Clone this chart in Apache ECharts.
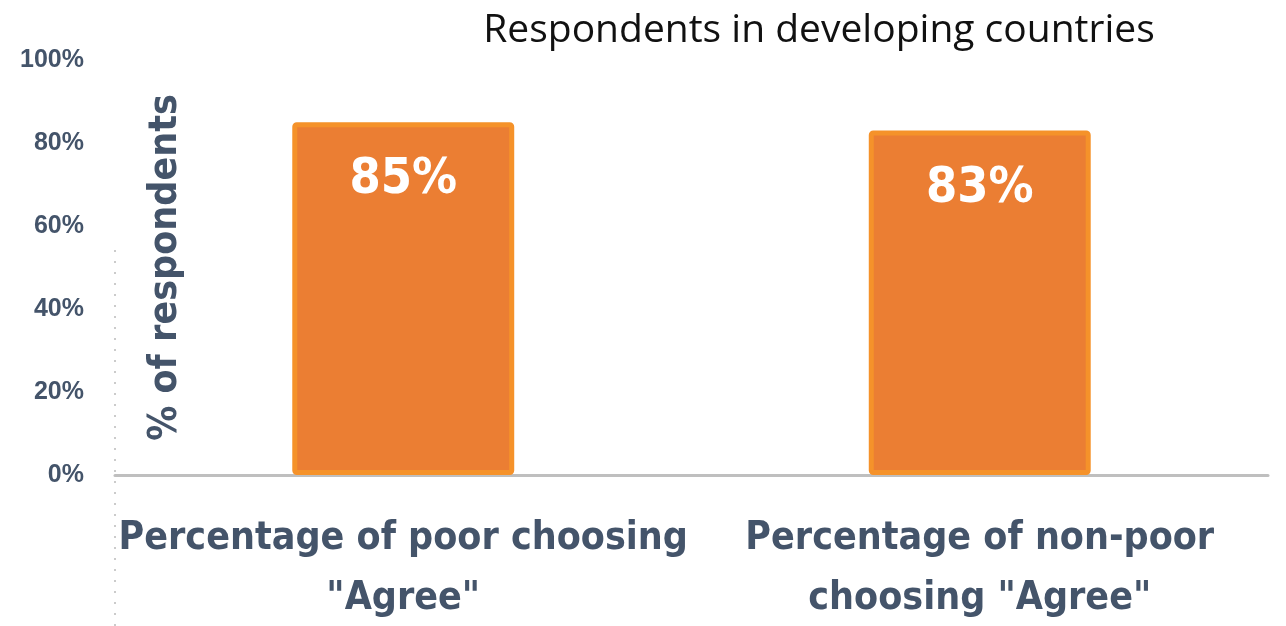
<!DOCTYPE html>
<html>
<head>
<meta charset="utf-8">
<script src="https://cdn.jsdelivr.net/npm/echarts@6/dist/echarts.min.js"></script>
<style>
  html, body { margin: 0; padding: 0; background: #fff; }
  #chart { width: 1286px; height: 626px; }
</style>
</head>
<body>
<div id="chart"></div>
<script>
// Share of respondents choosing "Agree" in developing countries
const categories = ['Percentage of poor choosing\n"Agree"', 'Percentage of non-poor\nchoosing "Agree"'];
const agreeShare = [85, 83];
const yTicks = [0, 20, 40, 60, 80, 100];

const slate = '#44546A';
const condensed = '"DejaVu Sans Condensed", "DejaVu Sans", sans-serif';

const chart = echarts.init(document.getElementById('chart'));
chart.setOption({
  animation: false,
  title: {
    text: 'Respondents in developing countries',
    left: 814, top: 6, textAlign: 'center',
    textStyle: { fontFamily: '"Open Sans", sans-serif', fontWeight: 'normal', fontSize: 39, color: '#111' }
  },
  grid: { left: 115, right: 18, top: 60, bottom: 151, containLabel: false, outerBoundsMode: 'none' },
  xAxis: {
    type: 'category',
    data: categories,
    axisLine: { lineStyle: { color: '#BFBFBF', width: 3 } },
    axisTick: { show: false },
    axisLabel: {
      interval: 0, margin: 34,
      fontFamily: condensed, fontWeight: 'bold', fontSize: 39, lineHeight: 60, color: slate
    }
  },
  yAxis: {
    type: 'value', min: 0, max: 100, interval: 20,
    name: '% of respondents', nameLocation: 'middle', nameGap: -70,
    nameTextStyle: { fontFamily: condensed, fontWeight: 'bold', fontSize: 39, color: slate },
    axisLine: { show: false },
    axisTick: { show: false },
    splitLine: { show: false },
    axisLabel: {
      margin: 31,
      fontFamily: '"Liberation Sans", sans-serif', fontWeight: 'bold', fontSize: 25, color: slate,
      formatter: v => yTicks.includes(v) ? v + '%' : ''
    }
  },
  series: [{
    type: 'bar',
    data: agreeShare,
    barWidth: '38.5%',
    itemStyle: { color: '#EB7E33', borderColor: '#F5922A', borderWidth: 5, borderRadius: 2 },
    label: {
      show: true, position: 'insideTop', distance: 33,
      formatter: p => p.value + '%',
      fontFamily: condensed, fontWeight: 'bold', fontSize: 50, color: '#fff'
    }
  }],
  graphic: [{
    type: 'line', z: -1,
    shape: { x1: 115, y1: 250, x2: 115, y2: 626 },
    style: { stroke: '#BBBBBB', lineWidth: 1.5, lineDash: [2, 9] }
  }]
});
</script>
</body>
</html>
